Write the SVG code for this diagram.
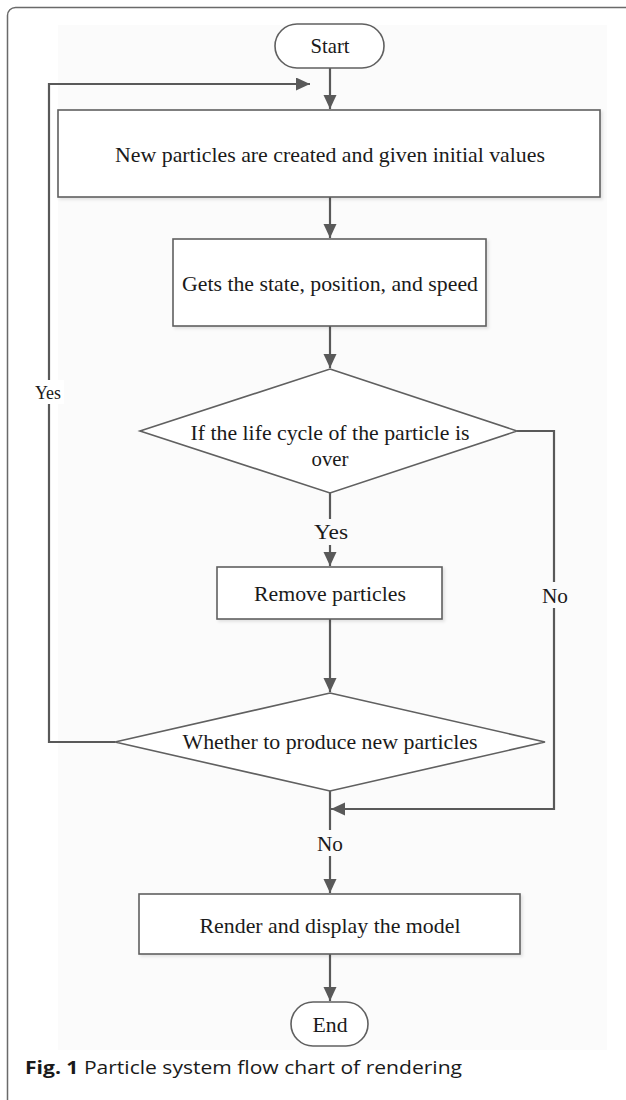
<svg xmlns="http://www.w3.org/2000/svg" width="626" height="1100" viewBox="0 0 626 1100">
<defs>
<style>
.shape{fill:#ffffff;stroke:#606060;stroke-width:1.6}
.conn{fill:none;stroke:#595959;stroke-width:2.2}
.lbl{font-family:"Liberation Serif","Times New Roman",serif;font-size:22px;fill:#1a1a1a;text-anchor:middle}
.cap{font-family:"Open Sans","Noto Sans","Liberation Sans",sans-serif;font-size:18px;fill:#1a1a1a}
</style>
<marker id="ah" markerUnits="userSpaceOnUse" markerWidth="15" markerHeight="14" refX="14" refY="6.5" orient="auto">
<path d="M0,0 L14,6.5 L0,13 z" fill="#595959"/>
</marker>
<filter id="sh" x="-5%" y="-5%" width="115%" height="130%">
<feDropShadow dx="2" dy="2" stdDeviation="1.5" flood-color="#000" flood-opacity="0.1"/>
</filter>
</defs>
<rect x="0" y="0" width="626" height="1100" fill="#ffffff"/>
<rect x="7.5" y="7.5" width="700" height="1200" rx="8" fill="none" stroke="#6a6a6a" stroke-width="1.5"/>
<rect x="58" y="25" width="549" height="1025" fill="#fbfbfb"/>

<g id="connectors">
<path class="conn" d="M330,68 V109" marker-end="url(#ah)"/>
<path class="conn" d="M115,742 H49 V84 H310" marker-end="url(#ah)"/>
<path class="conn" d="M330,197 V238" marker-end="url(#ah)"/>
<path class="conn" d="M330,326 V368" marker-end="url(#ah)"/>
<path class="conn" d="M330,493 V566" marker-end="url(#ah)"/>
<path class="conn" d="M330,619 V692" marker-end="url(#ah)"/>
<path class="conn" d="M517,431 H554 V809 H331" marker-end="url(#ah)"/>
<path class="conn" d="M330,791 V893" marker-end="url(#ah)"/>
<path class="conn" d="M330,954 V1001" marker-end="url(#ah)"/>
<rect x="34" y="380" width="30" height="24" fill="#ffffff"/>
<text class="lbl" x="48" y="399" style="font-size:19px" textLength="26" lengthAdjust="spacingAndGlyphs">Yes</text>
<rect x="312" y="519" width="37" height="26" fill="#fbfbfb"/>
<text class="lbl" x="331" y="539" textLength="34" lengthAdjust="spacingAndGlyphs">Yes</text>
<rect x="540" y="582" width="29" height="26" fill="#fbfbfb"/>
<text class="lbl" x="555" y="603" textLength="26" lengthAdjust="spacingAndGlyphs">No</text>
<rect x="315" y="830" width="30" height="26" fill="#fbfbfb"/>
<text class="lbl" x="330" y="851" textLength="26" lengthAdjust="spacingAndGlyphs">No</text>
</g>

<g id="start">
<rect class="shape" x="275" y="24" width="109" height="44" rx="22"/>
<text class="lbl" x="330" y="53" textLength="39" lengthAdjust="spacingAndGlyphs">Start</text>
</g>

<g id="create">
<rect class="shape" x="58" y="110" width="542" height="87" filter="url(#sh)"/>
<text class="lbl" x="330" y="162" textLength="430" lengthAdjust="spacingAndGlyphs">New particles are created and given initial values</text>
</g>

<g id="state">
<rect class="shape" x="173" y="239" width="313" height="87" filter="url(#sh)"/>
<text class="lbl" x="330" y="291" textLength="296" lengthAdjust="spacingAndGlyphs">Gets the state, position, and speed</text>
</g>

<g id="lifecycle">
<polygon class="shape" points="330,369 517,431 330,493 140,431"/>
<text class="lbl" x="330" y="440" textLength="279" lengthAdjust="spacingAndGlyphs">If the life cycle of the particle is</text>
<text class="lbl" x="330" y="466" textLength="37" lengthAdjust="spacingAndGlyphs">over</text>
</g>

<g id="remove">
<rect class="shape" x="217" y="567" width="225" height="52" filter="url(#sh)"/>
<text class="lbl" x="330" y="601" textLength="152" lengthAdjust="spacingAndGlyphs">Remove particles</text>
</g>

<g id="produce">
<polygon class="shape" points="330,693 545,742 330,791 115,742"/>
<text class="lbl" x="330" y="749" textLength="295" lengthAdjust="spacingAndGlyphs">Whether to produce new particles</text>
</g>

<g id="render">
<rect class="shape" x="139" y="894" width="381" height="60" filter="url(#sh)"/>
<text class="lbl" x="330" y="933" textLength="261" lengthAdjust="spacingAndGlyphs">Render and display the model</text>
</g>

<g id="end">
<rect class="shape" x="291" y="1002" width="77" height="44" rx="22"/>
<text class="lbl" x="330" y="1032" textLength="35" lengthAdjust="spacingAndGlyphs">End</text>
</g>

<text class="cap" x="25" y="1074" textLength="437" lengthAdjust="spacingAndGlyphs"><tspan font-weight="bold">Fig. 1</tspan> Particle system flow chart of rendering</text>
</svg>
